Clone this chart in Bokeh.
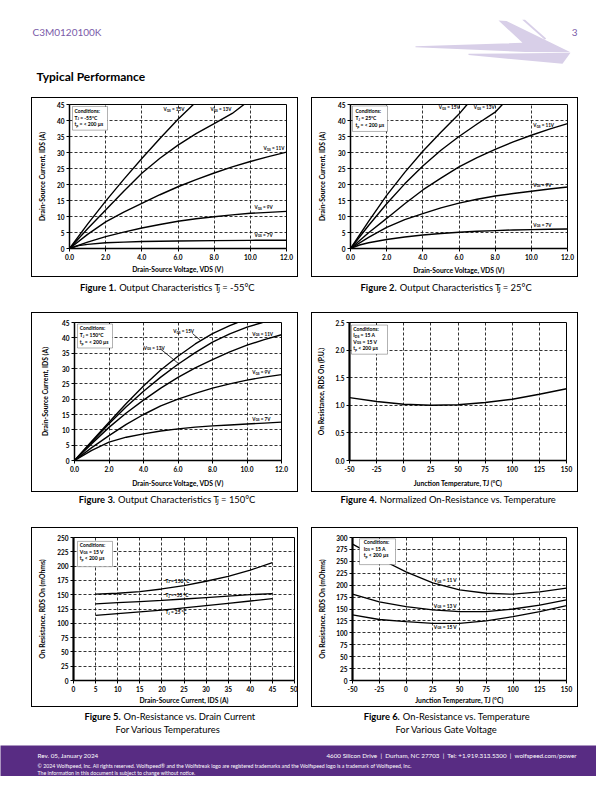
import math
from bokeh.plotting import figure
from bokeh.layouts import column, row
from bokeh.models import Spacer, Label, Range1d, FixedTicker, PrintfTickFormatter, BoxAnnotation
from bokeh.embed import file_html
from bokeh.resources import INLINE

# ---------------- DATA ----------------
# Figure 1: Output characteristics Tj = -55 C  (V_DS in V, I_DS in A)
F1_X15 = [0, 1, 2, 3, 4, 5, 6, 6.85]
F1_I15 = [0, 7.6, 14.8, 21.6, 28.1, 34.4, 40.4, 45]
F1_X13 = [0, 1, 2, 3, 4, 5, 6, 7, 8, 9, 9.65]
F1_I13 = [0, 6.2, 12.0, 17.9, 23.5, 28.2, 32.3, 35.9, 39.0, 42.2, 45]
F1_X = [0, 1, 2, 3, 4, 5, 6, 7, 8, 9, 10, 11, 12]
F1_I11 = [0, 4.4, 8.3, 11.4, 14.1, 16.8, 19.3, 21.5, 23.6, 25.5, 27.2, 28.7, 30.1]
F1_I9 = [0, 2.0, 3.7, 5.1, 6.4, 7.5, 8.5, 9.3, 9.9, 10.5, 11.0, 11.3, 11.6]
F1_X7 = [0, 0.5, 1, 2, 3, 4, 6, 8, 10, 12]
F1_I7 = [0, 0.9, 1.3, 1.8, 2.0, 2.2, 2.35, 2.45, 2.55, 2.6]

# Figure 2: Output characteristics Tj = 25 C
F2_X15 = [0, 1, 2, 3, 4, 5, 6, 6.45]
F2_I15 = [0, 8.5, 16.6, 23.8, 30.4, 36.3, 42.0, 45]
F2_X13 = [0, 1, 2, 3, 4, 5, 6, 7, 8, 8.4]
F2_I13 = [0, 7.2, 14.0, 20.2, 25.8, 30.7, 35.0, 38.9, 42.6, 45]
F2_X = [0, 1, 2, 3, 4, 5, 6, 7, 8, 9, 10, 11, 12]
F2_I11 = [0, 4.9, 9.4, 14.0, 18.3, 22.0, 25.5, 28.4, 31.0, 33.3, 35.4, 37.3, 39.0]
F2_I9 = [0, 3.5, 6.6, 9.0, 10.9, 12.7, 14.2, 15.4, 16.4, 17.2, 17.9, 18.6, 19.2]
F2_X7 = [0, 0.5, 1, 2, 3, 4, 5, 6, 7, 8, 9, 10, 11, 12]
F2_I7 = [0, 1.1, 1.8, 2.8, 3.6, 4.2, 4.7, 5.1, 5.4, 5.6, 5.8, 5.9, 6.0, 6.1]

# Figure 3: Output characteristics Tj = 150 C
F3_X15 = [0, 1, 2, 3, 4, 5, 6, 7, 8, 9, 9.45]
F3_I15 = [0, 6.3, 12.5, 18.6, 24.3, 29.5, 34.0, 38.0, 41.4, 44.0, 45]
F3_X13 = [0, 1, 2, 3, 4, 5, 6, 7, 8, 9, 10, 10.9]
F3_I13 = [0, 6.0, 12.0, 17.5, 22.6, 27.2, 31.4, 35.2, 38.6, 41.3, 43.5, 45]
F3_X = [0, 1, 2, 3, 4, 5, 6, 7, 8, 9, 10, 11, 12]
F3_I11 = [0, 5.5, 10.8, 15.5, 19.7, 23.6, 27.1, 30.2, 32.9, 35.4, 37.6, 39.4, 41.0]
F3_I9 = [0, 4.2, 8.1, 11.8, 15.0, 17.8, 20.0, 21.9, 23.6, 25.0, 26.2, 27.2, 28.0]
F3_I7 = [0, 3.3, 6.0, 7.6, 8.7, 9.6, 10.3, 10.9, 11.3, 11.6, 11.9, 12.2, 12.5]

# Figure 4: Normalized on-resistance vs temperature
F4_T = [-50, -25, 0, 25, 50, 75, 100, 125, 150]
F4_R = [1.14, 1.07, 1.02, 1.00, 1.01, 1.05, 1.11, 1.20, 1.30]

# Figure 5: On-resistance (mOhm) vs drain current (A)
F5_I = [5, 10, 15, 20, 25, 30, 35, 40, 45]
F5_R150 = [151, 152.5, 155.5, 160, 166, 173.5, 182, 193, 206]
F5_RM55 = [134, 136, 138, 140, 142.5, 145, 147.5, 150, 152]
F5_R25 = [114, 117, 120, 123, 127, 131, 135, 139, 143]

# Figure 6: On-resistance (mOhm) vs temperature for various gate voltages
F6_T = [-50, -25, 0, 25, 50, 75, 100, 125, 150]
F6_R11 = [286, 256, 228, 205, 190, 183, 181, 186, 194]
F6_R13 = [181, 165, 155, 148, 144.5, 144.5, 150, 158, 169]
F6_R15 = [137.5, 128, 123.5, 120, 120, 125, 134, 144.5, 157]

# tick values
VDS_TICKS = [0, 2, 4, 6, 8, 10, 12]
IDS_TICKS = [0, 5, 10, 15, 20, 25, 30, 35, 40, 45]
TEMP_TICKS = [-50, -25, 0, 25, 50, 75, 100, 125, 150]
PU_TICKS = [0, 0.5, 1.0, 1.5, 2.0, 2.5]
I5_TICKS = [0, 5, 10, 15, 20, 25, 30, 35, 40, 45, 50]
R5_TICKS = [0, 25, 50, 75, 100, 125, 150, 175, 200, 225, 250]
R6_TICKS = [0, 25, 50, 75, 100, 125, 150, 175, 200, 225, 250, 275, 300]

# ---------------- STYLE / HELPERS ----------------
FONT = "Lato"
PURPLE = "#582c83"
HEAD_PURPLE = "#7a5ba8"
LOGO = "#d8cfe8"
NB = "\u00a0"

CW = {' ': 0.2, NB: 0.2, '.': 0.22, ',': 0.22, ':': 0.22, ';': 0.22, '|': 0.26, '!': 0.26,
      'i': 0.23, 'l': 0.23, 'j': 0.23, 'I': 0.27, 'f': 0.31, 't': 0.34, 'r': 0.36,
      '(': 0.3, ')': 0.3, '-': 0.34, '/': 0.36, '°': 0.38, '=': 0.58, '<': 0.58,
      '+': 0.58, 'µ': 0.55, '®': 0.7, '©': 0.76, 'm': 0.8, 'w': 0.74, 'M': 0.86,
      'W': 0.97, 'T': 0.56, 'J': 0.4, 'L': 0.5, 'F': 0.54, 'E': 0.56, 'O': 0.76,
      'C': 0.68, 'D': 0.74, 'G': 0.73, 'S': 0.52, 'P': 0.6, 'R': 0.62, 'A': 0.68,
      'V': 0.66, 'U': 0.7, 'N': 0.74, 'H': 0.74, 'K': 0.66, 'B': 0.63,
      's': 0.42, 'c': 0.46, 'z': 0.44, 'y': 0.5, 'v': 0.5, 'x': 0.5, 'k': 0.5,
      'a': 0.51, 'e': 0.52, 'o': 0.56, 'n': 0.56, 'u': 0.56, 'h': 0.56, 'p': 0.56,
      'q': 0.56, 'd': 0.56, 'b': 0.56, 'g': 0.52}


def tw(s, size, bold):
    w = 0.0
    for ch in s:
        if ch in CW:
            c = CW[ch]
        elif ch.isdigit():
            c = 0.58
        elif ch.islower():
            c = 0.52
        elif ch.isupper():
            c = 0.66
        else:
            c = 0.5
        w += c
    return w * size * (1.05 if bold else 1.0)


def keep_spaces(t):
    lead = len(t) - len(t.lstrip(" "))
    trail = len(t) - len(t.rstrip(" "))
    core = t.strip(" ")
    return NB * lead + core + NB * trail


def rich(p, conv, x, y, parts, size, bold=True, align="left", color="black",
         font=FONT, sub=0.7):
    items = []
    for part in parts:
        t = keep_spaces(part[0])
        k = part[1] if len(part) > 1 else "n"
        b = part[2] if len(part) > 2 else bold
        fs = size * sub if k == "s" else size
        items.append((t, k, b, fs, tw(t, fs, b)))
    if len(items) == 1 and items[0][1] == "n":
        t, k, b, fs, w = items[0]
        dx, dy = conv(x, y)
        p.add_layout(Label(x=dx, y=dy, text=t, text_font=font, text_font_size=f"{fs:.2f}px",
                           text_font_style="bold" if b else "normal", text_color=color,
                           text_align=align, text_baseline="middle"))
        return
    total = sum(it[4] for it in items)
    pos = {"left": 0.0, "center": -total / 2, "right": -total}[align]
    for t, k, b, fs, w in items:
        shift = size * 0.3 if k == "s" else 0.0
        dx, dy = conv(x + pos, y + shift)
        p.add_layout(Label(x=dx, y=dy, text=t, text_font=font, text_font_size=f"{fs:.2f}px",
                           text_font_style="bold" if b else "normal", text_color=color,
                           text_align="left", text_baseline="middle"))
        pos += w


def ident(px, py):
    return px, py


FW, FH = 265, 178   # chart figure size; a 1px CSS outline around it forms the chart box


def make_chart(ox, oy, frame, xr, yr, xt, yt, xfmt, yfmt, xlabel, ylabel, xs, ys, ylw=1.5):
    fl, fr, ft, fb = frame
    L = fl - ox
    T = ft - oy
    R = ox + FW - fr
    B = oy + FH - fb
    p = figure(width=FW, height=FH, x_range=Range1d(*xr), y_range=Range1d(*yr),
               output_backend="svg", toolbar_location=None,
               min_border_left=L, min_border_right=R, min_border_top=T, min_border_bottom=B,
               styles={"outline": "1px solid black"})

    def conv(px, py):
        return (xr[0] + (px - fl) / (fr - fl) * (xr[1] - xr[0]),
                yr[0] + (fb - py) / (fb - ft) * (yr[1] - yr[0]))

    for ax, ticks, fmt, lab, st, lw in ((p.xaxis[0], xt, xfmt, xlabel, xs, 1.3),
                                        (p.yaxis[0], yt, yfmt, ylabel, ys, ylw)):
        ax.ticker = FixedTicker(ticks=ticks)
        ax.formatter = PrintfTickFormatter(format=fmt)
        ax.major_label_text_font = FONT
        ax.major_label_text_font_size = "6.5px"
        ax.major_label_text_font_style = "bold"
        ax.major_label_text_color = "black"
        ax.major_tick_out = 3
        ax.major_tick_in = 0
        ax.minor_tick_out = 0
        ax.minor_tick_in = 0
        ax.major_tick_line_color = "black"
        ax.axis_line_color = "black"
        ax.axis_line_width = lw
        ax.major_label_standoff = 2
        ax.axis_label = lab
        ax.axis_label_text_font = FONT
        ax.axis_label_text_font_size = "6.8px"
        ax.axis_label_text_font_style = "bold"
        ax.axis_label_text_color = "black"
        ax.axis_label_standoff = st
    p.xgrid.ticker = FixedTicker(ticks=xt)
    p.ygrid.ticker = FixedTicker(ticks=yt)
    p.grid.grid_line_color = "black"
    p.grid.grid_line_dash = "3 2"
    p.grid.grid_line_width = 0.8
    p.outline_line_color = "black"
    p.outline_line_width = 1
    p.background_fill_color = "white"
    p.border_fill_color = "white"
    return p, conv


def cond_box(p, conv, x0, y0, x1, y1, lines, lx, ly, dy, size=5.0):
    a, b = conv(x0, y1)
    c, d = conv(x1, y0)
    p.add_layout(BoxAnnotation(left=a, right=c, bottom=b, top=d, fill_color="white",
                               fill_alpha=1, line_color="black", line_width=1))
    for i, parts in enumerate(lines):
        rich(p, conv, lx, ly + i * dy, parts, size)


def curves(p, pairs, width=1.4):
    for xs, ys in pairs:
        p.line(xs, ys, line_color="black", line_width=width)


def vgs(v):
    return [("V", "n"), ("GS", "s"), (f" = {v}", "n")]


def cond_tj(t):
    return [("T", "n"), ("J", "s"), (f" = {t}", "n")]


COND_TP = [("t", "n"), ("p", "s"), (" = < 200 µs", "n")]
COND_TP2 = [("t", "n"), ("p", "s"), (" < 200 µs", "n")]
COND_IDS = [("I", "n"), ("DS", "s"), (" = 15 A", "n")]
COND_VGS = [("V", "n"), ("GS", "s"), (" = 15 V", "n")]

YLAB_I = "Drain-Source Current, IDS (A)"
XLAB_V = "Drain-Source Voltage, VDS (V)"
XLAB_T = "Junction Temperature, TJ (°C)"
YLAB_PU = "On Resistance, RDS On (P.U.)"
YLAB_MO = "On Resistance, RDS On (mOhms)"
XLAB_I = "Drain-Source Current, IDS (A)"

# ---------------- CHART 1 ----------------
c1, k1 = make_chart(32, 98, (69, 286, 104, 250), (0, 12), (0, 45), VDS_TICKS, IDS_TICKS,
                    "%.1f", "%d", XLAB_V, YLAB_I, 2, 8)
curves(c1, [(F1_X15, F1_I15), (F1_X13, F1_I13), (F1_X, F1_I11), (F1_X, F1_I9), (F1_X7, F1_I7)])
cond_box(c1, k1, 72, 106, 107, 130, [[("Conditions:",)], cond_tj("-55°C"), COND_TP], 74, 110.5, 6.7)
rich(c1, k1, 163, 109, vgs("15V"), 4.6)
rich(c1, k1, 210, 109, vgs("13V"), 4.6)
rich(c1, k1, 263, 148.3, vgs("11V"), 4.6)
rich(c1, k1, 254, 208.3, vgs("9V"), 4.6)
rich(c1, k1, 254, 236.3, vgs("7V"), 4.6)

# ---------------- CHART 2 ----------------
c2, k2 = make_chart(312, 98, (350, 567, 102, 249), (0, 12), (0, 45), VDS_TICKS, IDS_TICKS,
                    "%.1f", "%d", XLAB_V, YLAB_I, 3, 9)
curves(c2, [(F2_X15, F2_I15), (F2_X13, F2_I13), (F2_X, F2_I11), (F2_X, F2_I9), (F2_X7, F2_I7)])
cond_box(c2, k2, 352, 103.5, 387, 129.5, [[("Conditions:",)], cond_tj("25°C"), COND_TP], 355, 109, 7.0)
rich(c2, k2, 438.3, 105, vgs("15V"), 4.6)
rich(c2, k2, 473.3, 105, vgs("13V"), 4.6)
rich(c2, k2, 532.7, 123.3, vgs("11V"), 4.6)
rich(c2, k2, 532.7, 184.3, vgs("9V"), 4.6)
rich(c2, k2, 532.7, 225, vgs("7V"), 4.6)

# ---------------- CHART 3 ----------------
c3, k3 = make_chart(32, 313, (74, 281, 322, 460), (0, 12), (0, 45), VDS_TICKS, IDS_TICKS,
                    "%.1f", "%d", XLAB_V, YLAB_I, 4, 10)
curves(c3, [(F3_X15, F3_I15), (F3_X13, F3_I13), (F3_X, F3_I11), (F3_X, F3_I9), (F3_X, F3_I7)])
cond_box(c3, k3, 77, 323.5, 112, 347.5, [[("Conditions:",)], cond_tj("150°C"), COND_TP], 79.3, 327.5, 7.0)
rich(c3, k3, 172.7, 330.7, vgs("15V"), 4.6)
rich(c3, k3, 143.3, 347.3, vgs("13V"), 4.6)
rich(c3, k3, 251.7, 333.3, vgs("11V"), 4.6)
rich(c3, k3, 251.7, 371.7, vgs("9V"), 4.6)
rich(c3, k3, 251.7, 418.3, vgs("7V"), 4.6)
ax0, ay0 = k3(192, 333)
ax1, ay1 = k3(200, 340)
bx0, by0 = k3(160, 348.5)
bx1, by1 = k3(178.3, 363.3)
c3.segment([ax0, bx0], [ay0, by0], [ax1, bx1], [ay1, by1], line_color="black", line_width=0.8)

# ---------------- CHART 4 ----------------
c4, k4 = make_chart(312, 313, (349, 566, 320, 465), (-50, 150), (0, 2.5), TEMP_TICKS, PU_TICKS,
                    "%d", "%.1f", XLAB_T, YLAB_PU, 4, 7, ylw=2.2)
curves(c4, [(F4_T, F4_R)])
cond_box(c4, k4, 351, 322.7, 387, 353.3,
         [[("Conditions:",)], COND_IDS, COND_VGS, COND_TP2], 352.8, 326.5, 6.8)

# ---------------- CHART 5 ----------------
c5, k5 = make_chart(32, 528, (73, 294, 534, 681), (0, 50), (0, 250), I5_TICKS, R5_TICKS,
                    "%d", "%d", XLAB_I, YLAB_MO, 1, 8, ylw=2.2)
curves(c5, [(F5_I, F5_R150), (F5_I, F5_RM55), (F5_I, F5_R25)], width=1.3)
cond_box(c5, k5, 77, 538, 112, 564, [[("Conditions:",)], COND_VGS, COND_TP2], 79.3, 542, 6.6)
rich(c5, k5, 165, 578.3, [("T", "n"), ("J", "s"), (" = 150 °C", "n")], 4.8)
rich(c5, k5, 165, 593.3, [("T", "n"), ("J", "s"), (" = -55 °C", "n")], 4.8)
rich(c5, k5, 165, 611, [("T", "n"), ("J", "s"), (" = 25 °C", "n")], 4.8)

# ---------------- CHART 6 ----------------
c6, k6 = make_chart(312, 528, (352, 566, 537, 681), (-50, 150), (0, 300), TEMP_TICKS, R6_TICKS,
                    "%d", "%d", XLAB_T, YLAB_MO, 1, 7, ylw=2.2)
curves(c6, [(F6_T, F6_R11), (F6_T, F6_R13), (F6_T, F6_R15)], width=1.3)
cond_box(c6, k6, 359, 538.3, 395, 564.3, [[("Conditions:",)], COND_IDS, COND_TP2], 363.3, 542, 6.4)
rich(c6, k6, 433.3, 580, vgs("11 V"), 4.8)
rich(c6, k6, 433.3, 606, vgs("13 V"), 4.8)
rich(c6, k6, 433.3, 626.7, vgs("15 V"), 4.8)


# ---------------- PAGE PIECES ----------------
def band(top, bottom, fill=None):
    p = figure(width=596, height=bottom - top, x_range=Range1d(0, 596), y_range=Range1d(bottom, top),
               output_backend="svg", toolbar_location=None, min_border=0,
               x_axis_location=None, y_axis_location=None)
    p.grid.visible = False
    p.outline_line_color = None
    p.background_fill_color = fill
    p.border_fill_color = fill
    return p


header = band(0, 98)
header.patch([415, 522, 498, 506, 570, 525, 415], [45.7, 42.3, 20, 20.5, 51.7, 51.5, 46.7],
             fill_color=LOGO, line_color=None)
header.patch([521.7, 524.5, 545.7, 544.3], [19.3, 19.3, 38, 39.2], fill_color=LOGO, line_color=None)
header.patch([468, 570, 562, 468], [53.3, 52.3, 63.3, 54.5], fill_color=LOGO, line_color=None)
rich(header, ident, 32, 31.5, [("C3M0120100K",)], 10.0, bold=False, color=HEAD_PURPLE)
rich(header, ident, 577, 31.5, [("3",)], 10.0, bold=False, color=HEAD_PURPLE, align="right")
rich(header, ident, 36, 76, [("Typical Performance",)], 12.0, bold=True, color="black")

CAPS = 9.4
cap1 = band(276, 313)
rich(cap1, ident, 166, 287, [("Figure 1.", "n", True), (" Output Characteristics T", "n", False),
                              ("J", "s", False), (" = -55°C", "n", False)], CAPS, align="center")
rich(cap1, ident, 445, 287, [("Figure 2.", "n", True), (" Output Characteristics T", "n", False),
                              ("J", "s", False), (" = 25°C", "n", False)], CAPS, align="center")
cap2 = band(491, 528)
rich(cap2, ident, 166, 499, [("Figure 3.", "n", True), (" Output Characteristics T", "n", False),
                              ("J", "s", False), (" = 150°C", "n", False)], CAPS, align="center")
rich(cap2, ident, 446.5, 499, [("Figure 4.", "n", True),
                                (" Normalized On-Resistance vs. Temperature", "n", False)], CAPS, align="center")
cap3 = band(706, 745)
rich(cap3, ident, 168, 716, [("Figure 5.", "n", True), (" On-Resistance vs. Drain Current", "n", False)],
     CAPS, align="center")
rich(cap3, ident, 167.5, 729, [("For Various Temperatures",)], CAPS, bold=False, align="center")
rich(cap3, ident, 445.5, 716, [("Figure 6.", "n", True), (" On-Resistance vs. Temperature", "n", False)],
     CAPS, align="center")
rich(cap3, ident, 446, 729, [("For Various Gate Voltage",)], CAPS, bold=False, align="center")

footer = band(745, 776, fill=PURPLE)
SEP = NB + NB + "|" + NB + NB
rich(footer, ident, 37, 755, [("Rev. 05, January 2024",)], 6.3, bold=False, color="white")
rich(footer, ident, 576, 755,
     [("4600 Silicon Drive" + SEP + "Durham, NC 27703" + SEP + "Tel: +1.919.313.5300" + SEP + "wolfspeed.com/power",)],
     6.3, bold=False, color="white", align="right")
rich(footer, ident, 37, 765.5,
     [("© 2024 Wolfspeed, Inc. All rights reserved. Wolfspeed® and the Wolfstreak logo are registered "
       "trademarks and the Wolfspeed logo is a trademark of Wolfspeed, Inc.",)],
     5.2, bold=False, color="white")
rich(footer, ident, 37, 772, [("The information in this document is subject to change without notice.",)],
     5.2, bold=False, color="white")

row1 = row(Spacer(width=32, height=FH), c1, Spacer(width=15, height=FH), c2, Spacer(width=19, height=FH))
row2 = row(Spacer(width=32, height=FH), c3, Spacer(width=15, height=FH), c4, Spacer(width=19, height=FH))
row3 = row(Spacer(width=32, height=FH), c5, Spacer(width=15, height=FH), c6, Spacer(width=19, height=FH))

page = column(header, row1, cap1, row2, cap2, row3, cap3, footer)

open("out.html", "w").write(file_html(page, INLINE))
